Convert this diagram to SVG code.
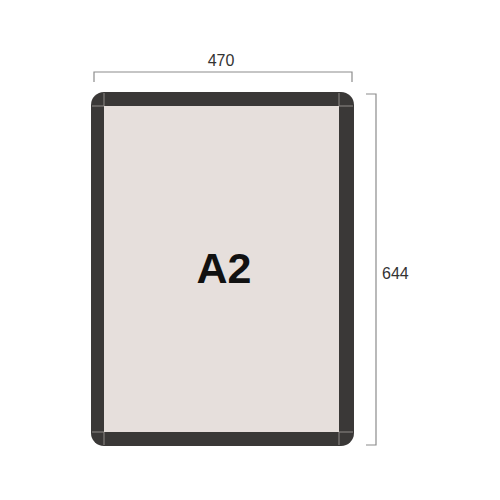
<svg xmlns="http://www.w3.org/2000/svg" width="500" height="500" viewBox="0 0 500 500">
<style>
.dim{fill:none;stroke:#8c8c8c;stroke-width:1.2}
.lbl{font-family:"Liberation Sans",Arial,sans-serif;font-size:16px;fill:#333}
.joint{stroke:#8e8a88;stroke-width:1}
</style>
<rect width="500" height="500" fill="#ffffff"/>
<g id="frame">
<rect x="91" y="92" width="263" height="354" rx="13" ry="13" fill="#3a3837"/>
<rect x="104" y="106" width="235" height="326" fill="#e6dfdc"/>
<line class="joint" x1="104" y1="93" x2="104" y2="106"/>
<line class="joint" x1="339" y1="93" x2="339" y2="106"/>
<line class="joint" x1="92" y1="106" x2="104" y2="106"/>
<line class="joint" x1="339" y1="106" x2="353" y2="106"/>
<line class="joint" x1="104" y1="432" x2="104" y2="445"/>
<line class="joint" x1="339" y1="432" x2="339" y2="445"/>
<line class="joint" x1="92" y1="432" x2="104" y2="432"/>
<line class="joint" x1="339" y1="432" x2="353" y2="432"/>
<text x="224" y="283" text-anchor="middle" font-family="'Liberation Sans',Arial,sans-serif" font-weight="bold" font-size="43" fill="#111">A2</text>
</g>
<g id="connectors">
<path class="dim" d="M94,82 V72 H352 V82"/>
<path class="dim" d="M366,94 H376 V445 H366"/>
</g>
<g id="labels">
<text class="lbl" x="221" y="66" text-anchor="middle">470</text>
<text class="lbl" x="382" y="279">644</text>
</g>
</svg>
